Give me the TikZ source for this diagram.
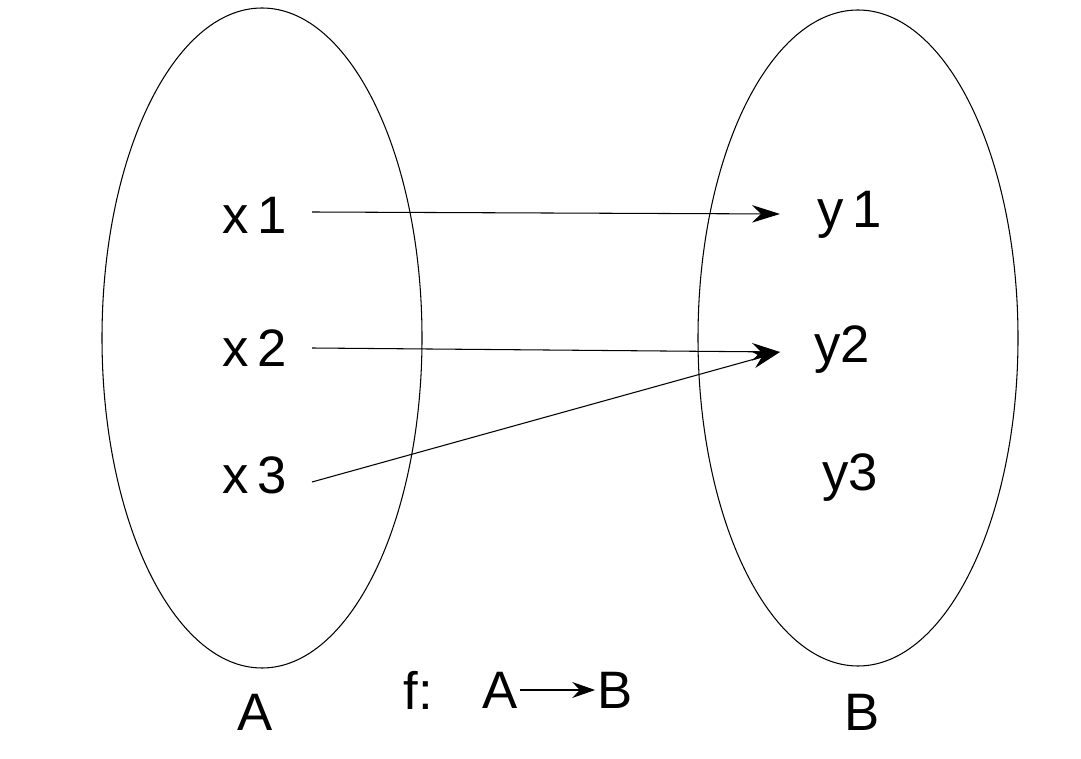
\documentclass[tikz,border=0pt]{standalone}
\usepackage{fontspec}
\setmainfont{Liberation Sans}
\usetikzlibrary{arrows.meta, positioning}

\begin{document}
\begin{tikzpicture}[x=0.02cm, y=-0.02cm, semithick,
    lbl/.style={font=\fontsize{30}{34}\selectfont, inner sep=1pt},
    maparrow/.style={-{Stealth[length=16pt, width=10pt]}}]
  \useasboundingbox (0,0) rectangle (1081,759);

  % The two sets
  \draw (262,338) ellipse (160 and 330);
  \draw (858,338) ellipse (160 and 328);

  % Elements of A
  \node[lbl] (x1) at (255,215) {x\,1};
  \node[lbl] (x2) at (255,348) {x\,2};
  \node[lbl] (x3) at (255,475) {x\,3};

  % Elements of B
  \node[lbl] (y1) at (850,215) {y\,1};
  \node[lbl] (y2) at (842,350) {y2};
  \node[lbl] (y3) at (850,478) {y3};

  % Set names
  \node[lbl] (A) at (255,712) {A};
  \node[lbl] (B) at (862,712) {B};

  % Mapping
  \coordinate (t1) at (780,214);
  \coordinate (t2) at (780,352);
  \draw[maparrow] (312,212) -- (t1);
  \draw[maparrow] (312,348) -- (t2);
  \draw[maparrow] (312,482) -- (t2);

  % Caption f: A -> B
  \node[lbl] (f) at (418,690) {f:};
  \node[lbl] (fa) at (500,690) {A};
  \node[lbl] (fb) at (615,690) {B};
  \draw[-{Stealth[length=13pt, width=9pt]}] (fa.east) -- (fb.west);
\end{tikzpicture}
\end{document}
